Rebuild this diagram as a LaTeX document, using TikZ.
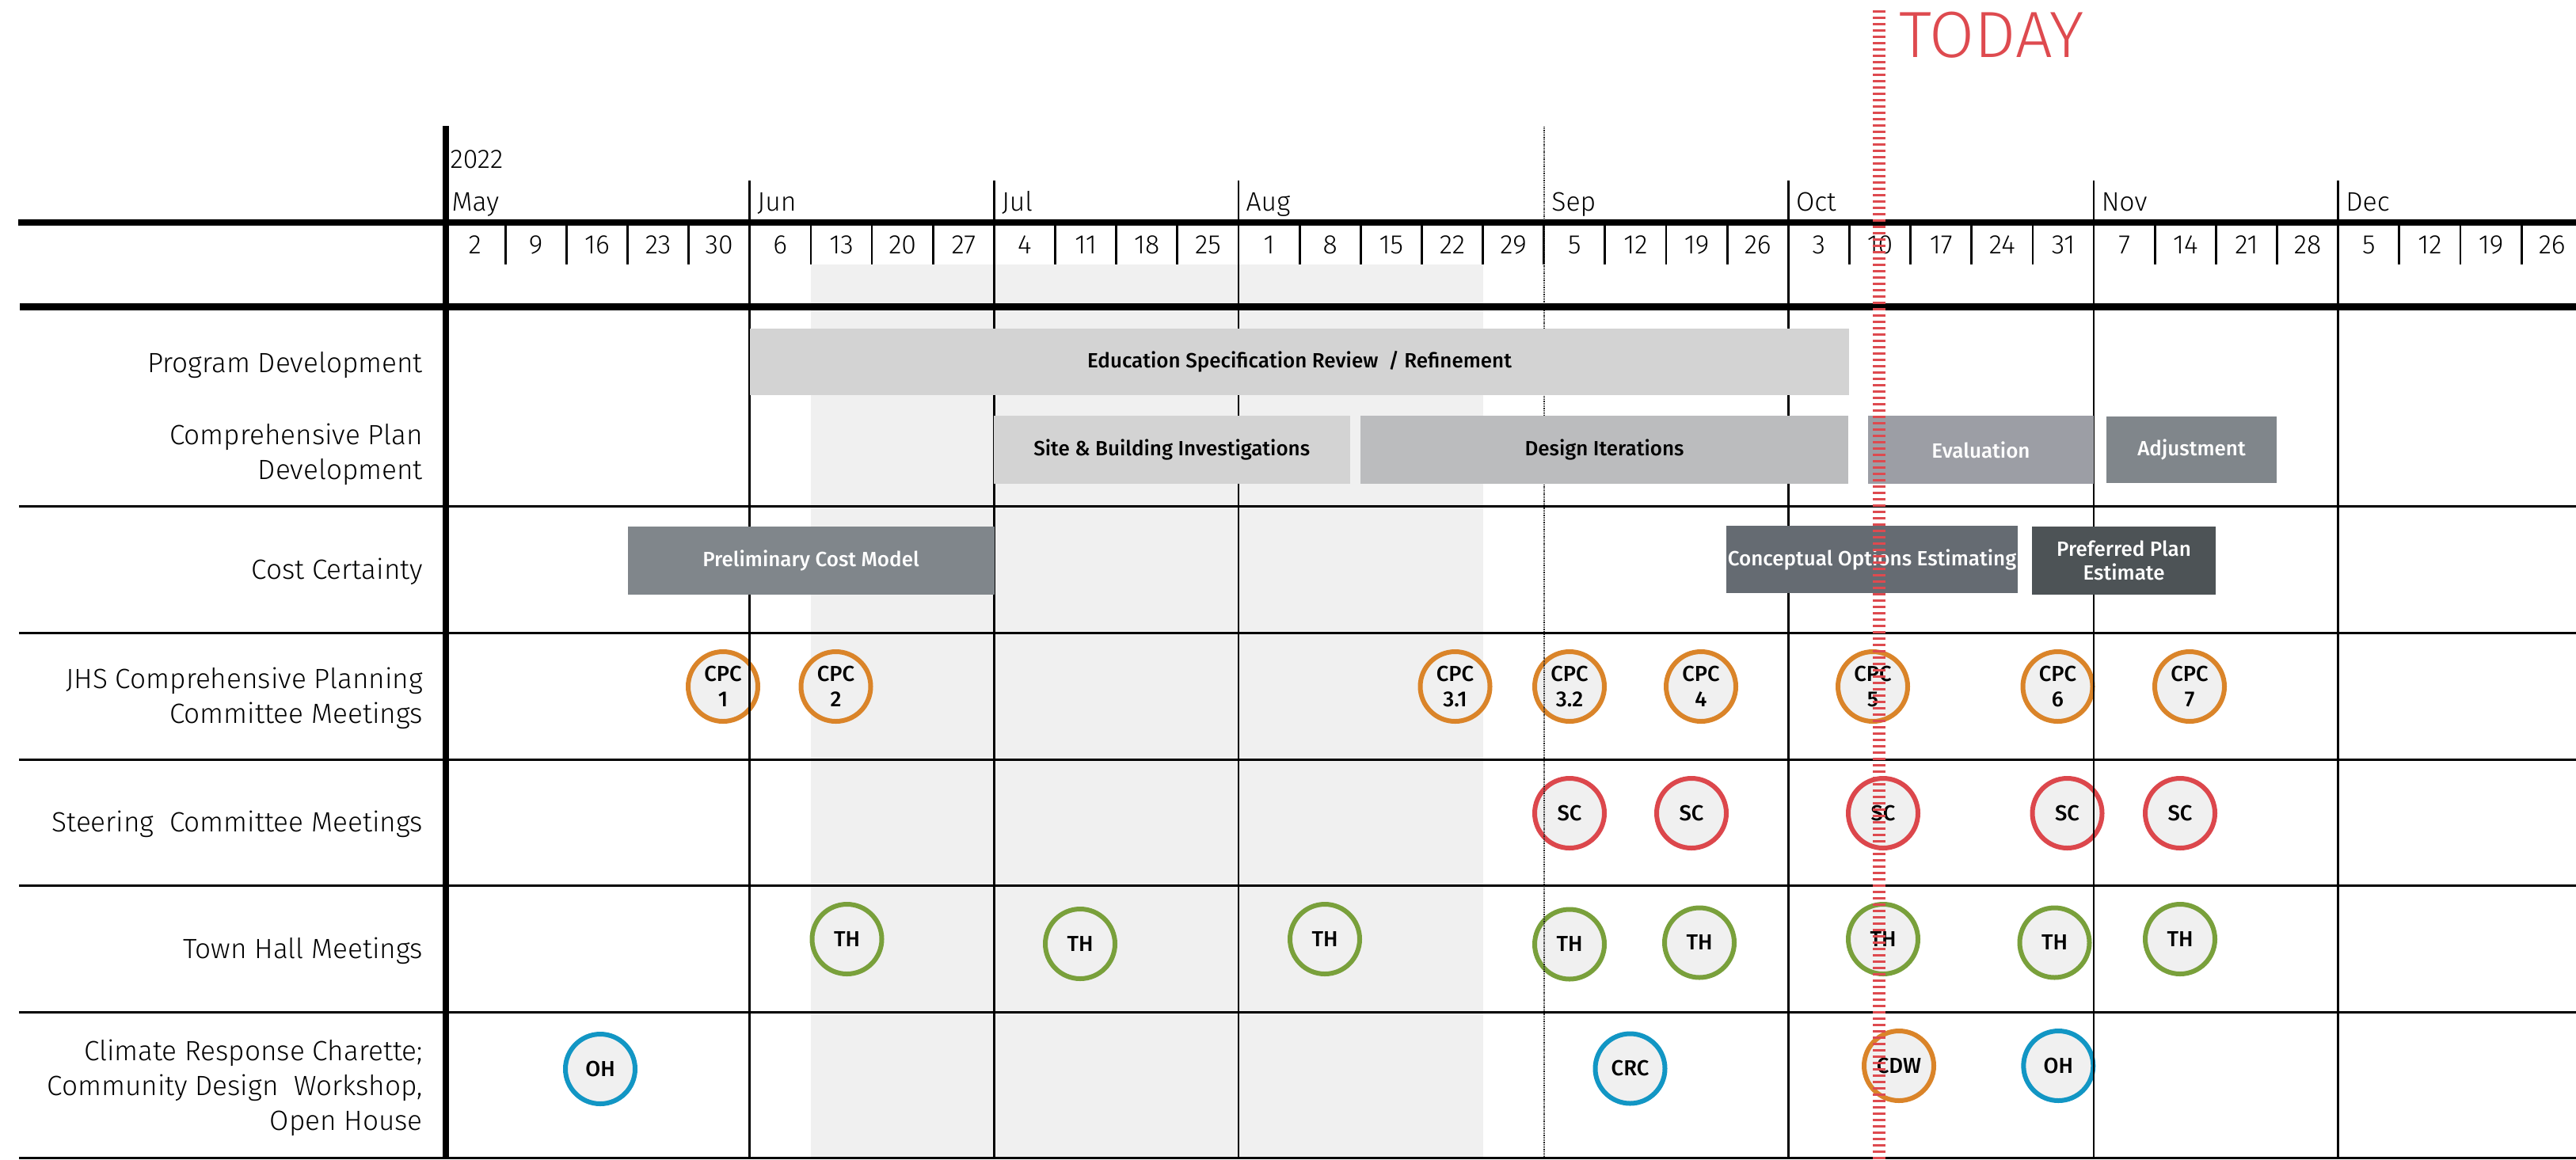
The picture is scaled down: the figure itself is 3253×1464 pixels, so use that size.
\documentclass[tikz,border=0pt]{standalone}
\usepackage{fontspec}
\setmainfont{Fira Sans}
\newfontfamily\lightf{Fira Sans Light}
\newfontfamily\medf{Fira Sans Medium}
\definecolor{shadeG}{HTML}{F0F0F0}
\definecolor{barA}{HTML}{D3D3D3}
\definecolor{barB}{HTML}{BBBCBE}
\definecolor{barC}{HTML}{9C9EA5}
\definecolor{barD}{HTML}{80868B}
\definecolor{barE}{HTML}{656B72}
\definecolor{barF}{HTML}{4D5356}
\definecolor{cOr}{HTML}{DA8429}
\definecolor{cRd}{HTML}{DC474C}
\definecolor{cGr}{HTML}{79A03B}
\definecolor{cBl}{HTML}{1296C4}
\definecolor{todayR}{HTML}{DE4A4F}
\begin{document}
\begin{tikzpicture}[x=0.1mm,y=-0.1mm,
  rowlbl/.style={anchor=base east, align=right, inner sep=0pt,
    font=\lightf\fontsize{10}{12.5}\selectfont},
  hdr/.style={inner sep=0pt, font=\lightf\fontsize{9.6}{12}\selectfont},
  bar/.style={rectangle, inner sep=0pt, align=center,
    font=\medf\fontsize{7.4}{8.6}\selectfont},
  evt/.style={circle, draw=#1, line width=0.6mm, fill=shadeG,
    minimum size=8.8mm, inner sep=0pt, align=center,
    font=\medf\fontsize{7.8}{9}\selectfont},
  heavy/.style={line width=0.86mm, black},
  secline/.style={line width=0.3mm, black},
  gridline/.style={line width=0.28mm, black},
]
\useasboundingbox (0,0) rectangle (3253,1464);
\fill[white] (0,0) rectangle (3253,1464);

% shaded summer band
\fill[shadeG] (1024,334) rectangle (1873,1464);

% ---------- event circles ----------
\node[evt=cOr] (cpc1)  at (913,867)    {CPC\\1};
\node[evt=cOr] (cpc2)  at (1055.5,867) {CPC\\2};
\node[evt=cOr] (cpc31) at (1837.5,867) {CPC\\3.1};
\node[evt=cOr] (cpc32) at (1982,867)   {CPC\\3.2};
\node[evt=cOr] (cpc4)  at (2148,867)   {CPC\\4};
\node[evt=cOr] (cpc5)  at (2365,867)   {CPC\\5};
\node[evt=cOr] (cpc6)  at (2598.5,867) {CPC\\6};
\node[evt=cOr] (cpc7)  at (2765,867)   {CPC\\7};

\node[evt=cRd] (sc1) at (1982,1027)   {SC};
\node[evt=cRd] (sc2) at (2136,1027)   {SC};
\node[evt=cRd] (sc3) at (2378,1027)   {SC};
\node[evt=cRd] (sc4) at (2610.5,1027) {SC};
\node[evt=cRd] (sc5) at (2753,1027)   {SC};

\node[evt=cGr] (th1) at (1069.5,1186) {TH};
\node[evt=cGr] (th2) at (1364,1192)   {TH};
\node[evt=cGr] (th3) at (1673,1186)   {TH};
\node[evt=cGr] (th4) at (1982,1192.5) {TH};
\node[evt=cGr] (th5) at (2146,1190.5) {TH};
\node[evt=cGr] (th6) at (2378,1186)   {TH};
\node[evt=cGr] (th7) at (2594.5,1190.5) {TH};
\node[evt=cGr] (th8) at (2753,1186)   {TH};

\node[evt=cBl] (oh1) at (758,1350)    {OH};
\node[evt=cBl] (crc) at (2058.5,1349.5) {CRC};
\node[evt=cOr] (cdw) at (2398,1346)   {CDW};
\node[evt=cBl] (oh2) at (2599.3,1346) {OH};

% ---------- grid ----------
% week separators in the date row
\foreach \k in {1,...,35}
  \draw[gridline] ({561+77.15*\k},285) -- ({561+77.15*\k},334);
% month lines
\foreach \k in {5,9,13,22,27,31}
  \draw[gridline] ({561+77.15*\k},228) -- ({561+77.15*\k},1464);
% September: thin dotted
\draw[line width=0.2mm, black!85, dash pattern=on 0.1mm off 0.08mm]
  ({561+77.15*18},160) -- ({561+77.15*18},1464);
% heavy header rules
\draw[heavy] (23,281) -- (3253,281);
\draw[heavy] (25,387.5) -- (3253,387.5);
% section rules
\foreach \y in {639,799,959,1118,1278}
  \draw[secline] (24,\y) -- (3253,\y);
\draw[line width=0.25mm] (24,1462.5) -- (3253,1462.5);
% heavy left axis
\draw[line width=0.77mm] (563.3,159) -- (563.3,1464);

% ---------- header text ----------
\node[hdr, anchor=base west] (year) at (568,212) {2022};
\foreach \m/\k in {May/0,Jun/5,Jul/9,Aug/13,Sep/18,Oct/22,Nov/27,Dec/31}
  \node[hdr, anchor=base west] (m\m) at ({561+77.15*\k+9},266) {\m};
\foreach \d [count=\i from 0] in {2,9,16,23,30,6,13,20,27,4,11,18,25,1,8,15,22,29,5,12,19,26,3,10,17,24,31,7,14,21,28,5,12,19,26}
  \node[hdr, anchor=base] (date\i) at ({561+77.15*(\i+0.5)},320) {\d};

% ---------- row labels (base = baseline of the last line) ----------
\node[rowlbl] (lprog) at (534.5,470.7) {Program Development};
\node[rowlbl] (lcomp) at (534.5,605) {Comprehensive Plan\\Development};
\node[rowlbl] (lcost) at (534.5,731.7) {Cost Certainty};
\node[rowlbl] (ljhs)  at (534.5,913.6) {JHS Comprehensive Planning\\Committee Meetings};
\node[rowlbl] (lsteer) at (534.5,1050) {Steering~ Committee Meetings};
\node[rowlbl] (ltown) at (534.5,1210) {Town Hall Meetings};
\node[rowlbl] (lclim) at (534.5,1427.8) {Climate Response Charette;\\Community Design~ Workshop,\\Open House};

% ---------- activity bars ----------
\node[bar, fill=barA, minimum width=138.87mm, minimum height=8.4mm] (edu) at (1641.1,457)
  {Education Specification Review~ / Refinement};
\node[bar, fill=barA, minimum width=44.95mm, minimum height=8.6mm] (site) at (1479.75,568)
  {Site \& Building Investigations};
\node[bar, fill=barB, minimum width=61.6mm, minimum height=8.6mm] (design) at (2026,568)
  {Design Iterations};
\node[bar, fill=barC, text=white, minimum width=28.5mm, minimum height=8.6mm] (eval) at (2501.5,568)
  {Evaluation};
\node[bar, fill=barD, text=white, minimum width=21.5mm, minimum height=8.4mm] (adjust) at (2767.5,568)
  {Adjustment};
\node[bar, fill=barD, text=white, minimum width=46.3mm, minimum height=8.6mm] (prelim) at (1024,708)
  {Preliminary Cost Model};
\node[bar, fill=barE, text=white, minimum width=36.8mm, minimum height=8.5mm] (concept) at (2364,706.5)
  {Conceptual Options Estimating};
\node[bar, fill=barF, text=white, minimum width=23.2mm, minimum height=8.6mm] (pref) at (2682,708)
  {Preferred Plan\\Estimate};

% ---------- today marker ----------
\coordinate (todaytop) at (2373,13);
\coordinate (todaybot) at (2373,1464);
\draw[todayR, line width=1.6mm, dash pattern=on 0.3mm off 0.5mm] (todaytop) -- (todaybot);
\node[anchor=base west, inner sep=0pt, text=todayR, font=\lightf\fontsize{23.5}{26}\selectfont]
  (today) at (2398,72.7) {TODAY};
\end{tikzpicture}
\end{document}
